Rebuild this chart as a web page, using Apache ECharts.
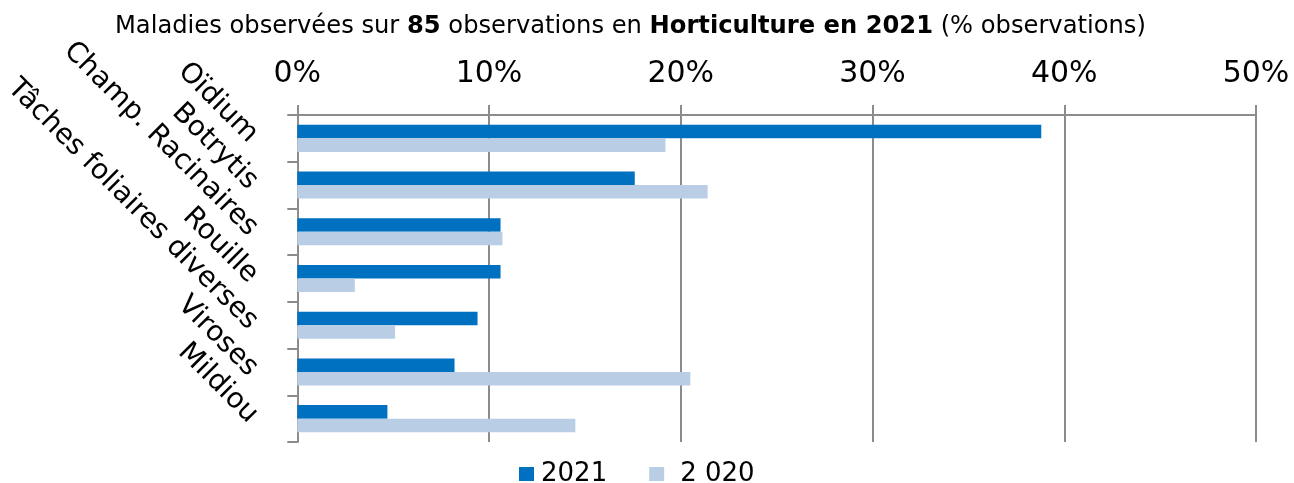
<!DOCTYPE html>
<html><head><meta charset="utf-8">
<script src="https://cdn.jsdelivr.net/npm/echarts@6/dist/echarts.min.js"></script>
<style>html,body{margin:0;padding:0;background:#fff}#c{width:1294px;height:483px}</style>
</head><body><div id="c"></div>
<script>
const categories = ['Oïdium','Botrytis','Champ. Racinaires','Rouille','Tâches foliaires diverses','Viroses','Mildiou'];
const values2021 = [38.8, 17.6, 10.6, 10.6, 9.4, 8.2, 4.7];
const values2020 = [19.2, 21.4, 10.7, 3.0, 5.1, 20.5, 14.5];
const seriesNames = ['2021', '2 020'];
const xTicks = {min: 0, max: 50, interval: 10};

const FONT = 'DejaVu Sans';
const chart = echarts.init(document.getElementById('c'));
chart.setOption({
  animation: false,
  textStyle: {fontFamily: FONT, color: '#000'},
  title: {
    text: 'Maladies observées sur {b|85} observations en {b|Horticulture en 2021} (% observations)',
    left: 110, top: 10,
    textStyle: {fontFamily: FONT, fontSize: 24.2, fontWeight: 'normal', color: '#000',
      rich: {b: {fontFamily: FONT, fontSize: 24.2, fontWeight: 'bold', color: '#000'}}}
  },
  legend: {
    top: 456, left: 514, icon: 'rect', itemWidth: 15, itemHeight: 14, itemGap: 42,
    textStyle: {fontFamily: FONT, fontSize: 26, color: '#000', padding: [0, 0, 0, 2]},
    data: [
      {name: seriesNames[0]},
      {name: seriesNames[1], textStyle: {padding: [0, 0, 0, 11]}}
    ]
  },
  grid: {left: 297, right: 38, top: 115, bottom: 41, containLabel: false},
  xAxis: {
    type: 'value', position: 'top', min: xTicks.min, max: xTicks.max, interval: xTicks.interval,
    axisLine: {show: true, lineStyle: {color: '#8c8c8c', width: 2}},
    axisTick: {show: true, length: 10, lineStyle: {color: '#8c8c8c', width: 2}},
    splitLine: {show: true, lineStyle: {color: '#8c8c8c', width: 2}},
    axisLabel: {formatter: '{value}%', fontSize: 30, color: '#000', margin: 26, fontFamily: FONT}
  },
  yAxis: {
    type: 'category', inverse: true, data: categories,
    axisLine: {show: true, lineStyle: {color: '#8c8c8c', width: 2}},
    axisTick: {show: true, length: 10, lineStyle: {color: '#8c8c8c', width: 2}},
    axisLabel: {rotate: -45, fontSize: 28, color: '#000', margin: 44, fontFamily: FONT, interval: 0}
  },
  series: [
    {name: seriesNames[0], type: 'bar', data: values2021, barGap: '0%', barCategoryGap: '42%',
     itemStyle: {color: '#0070C0'}},
    {name: seriesNames[1], type: 'bar', data: values2020, barGap: '0%', barCategoryGap: '42%',
     itemStyle: {color: '#B9CDE5'}}
  ]
});
</script></body></html>
